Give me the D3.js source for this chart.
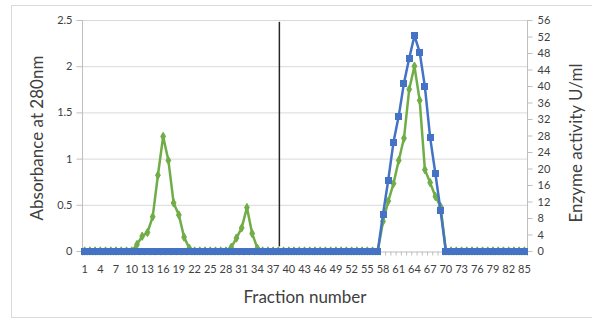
<!DOCTYPE html>
<html><head><meta charset="utf-8">
<script src="https://cdn.jsdelivr.net/npm/d3@7"></script>
<style>body{margin:0;background:#fff;} text{font-family:Lato,"Open Sans",sans-serif;fill:#404040;}</style>
</head><body>
<svg id="c" width="592" height="321"></svg>
<script>
const fractions = d3.range(1, 86);
const xTickLabels = d3.range(1, 86, 3);
const leftTicks = [0, 0.5, 1, 1.5, 2, 2.5];
const rightTicks = d3.range(0, 57, 4);
// Absorbance at 280nm (left axis), non-zero fractions
const absorbancePeaks = {
  11: 0.07, 12: 0.16, 13: 0.2, 14: 0.37, 15: 0.82, 16: 1.24, 17: 0.98, 18: 0.52, 19: 0.39, 20: 0.15, 21: 0.03,
  29: 0.04, 30: 0.14, 31: 0.25, 32: 0.47, 33: 0.19, 34: 0.03,
  58: 0.32, 59: 0.54, 60: 0.73, 61: 0.98, 62: 1.22, 63: 1.75, 64: 2.0, 65: 1.63, 66: 0.88, 67: 0.74, 68: 0.59, 69: 0.48
};
// Enzyme activity U/ml (right axis), non-zero fractions
const activityPeaks = {
  58: 8.9, 59: 17.2, 60: 26.4, 61: 32.7, 62: 40.7, 63: 46.7, 64: 52.2, 65: 48.2, 66: 39.8, 67: 27.5, 68: 18.8, 69: 9.7
};
const absorbance = fractions.map(f => absorbancePeaks[f] || 0);
const activity = fractions.map(f => activityPeaks[f] || 0);
const markerFraction = 38.2;
const markerRange = [2.48, 0.05];

const svg = d3.select("#c");
svg.append("rect").attr("x", 11.5).attr("y", 5.5).attr("width", 620).attr("height", 312)
  .attr("fill", "#fff").attr("stroke", "#d9d9d9");

const L = 82, R = 527, T = 20, B = 251;
const x = d3.scaleBand().domain(fractions).range([L, R]);
const xc = f => x(f) + x.bandwidth() / 2;
const xLin = d3.scaleLinear().domain([1, 85]).range([xc(1), xc(85)]);
const yL = d3.scaleLinear().domain([0, 2.5]).range([B, T]);
const yR = d3.scaleLinear().domain([0, 56]).range([B, T]);

// gridlines
svg.append("g").selectAll("line").data(leftTicks.slice(1)).join("line")
  .attr("x1", L).attr("x2", R).attr("y1", d => yL(d) + 0.5).attr("y2", d => yL(d) + 0.5)
  .attr("stroke", "#d9d9d9").attr("stroke-width", 1);

// left axis
const gl = svg.append("g").attr("transform", `translate(${L + 0.5},0)`)
  .call(d3.axisLeft(yL).tickValues(leftTicks).tickSize(6).tickPadding(4).tickFormat(d => d));
gl.select(".domain").attr("stroke", "#bfbfbf").attr("d", `M0,${T}V${B}`);
gl.selectAll(".tick line").attr("stroke", "#bfbfbf");
gl.selectAll("text").style("font-size", "11px").attr("fill", "#595959");

// right axis
const gr = svg.append("g").attr("transform", `translate(${R + 0.5},0)`)
  .call(d3.axisRight(yR).tickValues(rightTicks).tickSize(5).tickPadding(5).tickFormat(d => d));
gr.select(".domain").attr("stroke", "#bfbfbf").attr("d", `M0,${T}V${B}`);
gr.selectAll(".tick line").attr("stroke", "#bfbfbf");
gr.selectAll("text").style("font-size", "11px").attr("fill", "#595959");

// x axis
const gx = svg.append("g").attr("transform", `translate(0,${B + 0.5})`)
  .call(d3.axisBottom(x).tickValues(fractions).tickSize(4).tickPadding(10).tickFormat(d => xTickLabels.includes(d) ? d : ""));
gx.select(".domain").attr("stroke", "#bfbfbf");
gx.selectAll(".tick line").attr("stroke", "#bfbfbf").attr("transform", `translate(${x.bandwidth()/2},0)`);
gx.selectAll("text").style("font-size", "11px").attr("fill", "#595959");

// green absorbance
const lineL = d3.line().x((d, i) => xc(fractions[i])).y(d => yL(d));
svg.append("path").datum(absorbance).attr("d", lineL).attr("fill", "none")
  .attr("stroke", "#70ad47").attr("stroke-width", 2.5).attr("stroke-linejoin", "round");
svg.append("g").selectAll("path").data(absorbance).join("path")
  .attr("transform", (d, i) => `translate(${xc(fractions[i])},${yL(d)})`)
  .attr("d", d3.symbol(d3.symbolDiamond, 20))
  .attr("fill", "#70ad47").attr("stroke", "#70ad47").attr("stroke-width", 1);

// blue activity
const lineR = d3.line().x((d, i) => xc(fractions[i])).y(d => yR(d));
svg.append("path").datum(activity).attr("d", lineR).attr("fill", "none")
  .attr("stroke", "#4472c4").attr("stroke-width", 2.5).attr("stroke-linejoin", "round");
svg.append("g").attr("shape-rendering", "crispEdges").selectAll("rect").data(activity).join("rect")
  .attr("x", (d, i) => xc(fractions[i]) - 3.5).attr("y", d => yR(d) - 3.5)
  .attr("width", 7).attr("height", 7).attr("fill", "#4472c4");

// marker line
svg.append("line").attr("x1", xLin(markerFraction)).attr("x2", xLin(markerFraction))
  .attr("y1", yL(markerRange[0])).attr("y2", yL(markerRange[1]))
  .attr("stroke", "#262626").attr("stroke-width", 1.5);

// titles
svg.append("text").attr("x", 305).attr("y", 303).attr("text-anchor", "middle")
  .style("font-size", "17px").attr("fill", "#262626").text("Fraction number");
svg.append("text").attr("transform", "translate(43,138) rotate(-90)").attr("text-anchor", "middle")
  .style("font-size", "17px").attr("fill", "#262626").text("Absorbance at 280nm");
svg.append("text").attr("transform", "translate(582,143) rotate(-90)").attr("text-anchor", "middle")
  .style("font-size", "17px").attr("fill", "#262626").text("Enzyme activity U/ml");
</script>
</body></html>
